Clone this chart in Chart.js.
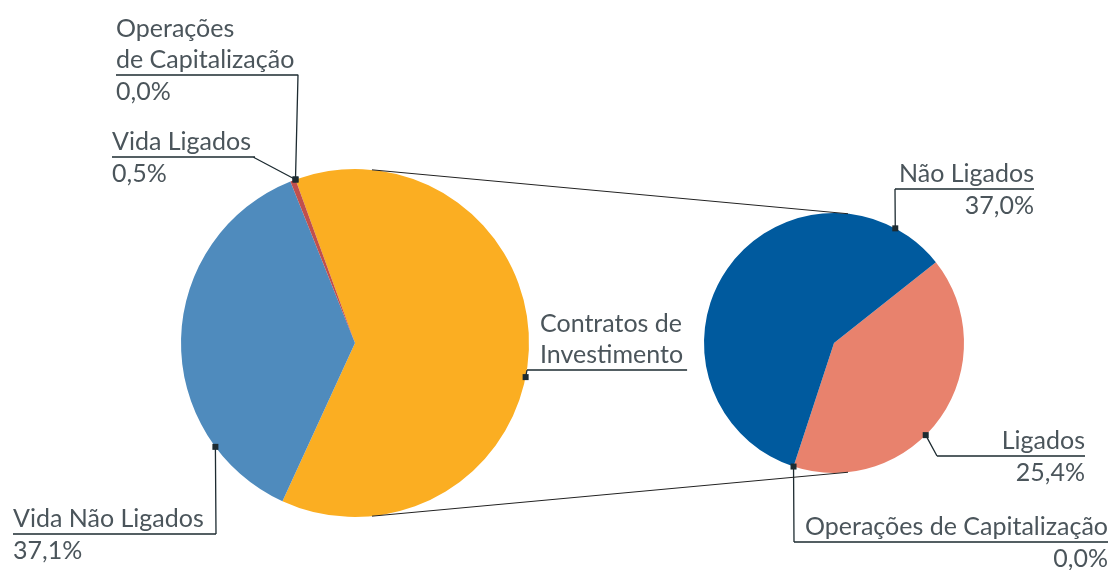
<!DOCTYPE html>
<html>
<head>
<meta charset="utf-8">
<script src="https://cdn.jsdelivr.net/npm/chart.js@4.4.1/dist/chart.umd.min.js"></script>
<style>
  html, body { margin: 0; padding: 0; background: #fff; }
  #wrap { position: relative; width: 1113px; height: 570px; }
  canvas { position: absolute; left: 0; top: 0; }
</style>
</head>
<body>
<div id="wrap">
  <canvas id="grafico1" width="1113" height="570"></canvas>
  <canvas id="grafico2" width="1113" height="570"></canvas>
</div>
<script>
// dados
const categoriasEsq = ['Contratos de Investimento', 'Vida Não Ligados', 'Vida Ligados', 'Operações de Capitalização'];
const valoresEsq = [62.4, 37.1, 0.5, 0.0];
const categoriasDir = ['Ligados', 'Operações de Capitalização', 'Não Ligados'];
const valoresDir = [25.4, 0.0, 37.0];

const coresEsq = ['#fbae22', '#4f8bbd', '#c0504d', '#8c8c8c'];
const coresDir = ['#e8826d', '#8c8c8c', '#005a9e'];

const FONTE = '25px Lato';
const COR_TEXTO = '#4b555b';
const COR_LINHA = '#1d2b31';

// rotulos: posicao do texto e ponto no arco (t = fracao ao longo do arco)
const rotulosEsq = [
  { linhas: ['Contratos de', 'Investimento'], x: 540, alinha: 'left', sub: 370, cotX: 527, t: 0.54, semValor: true },
  { linhas: ['Vida Não Ligados'], x: 13, alinha: 'left', sub: 534, cotX: 216, t: 0.215 },
  { linhas: ['Vida Ligados'], x: 112, alinha: 'left', sub: 157, cotX: 253, t: 1 },
  { linhas: ['Operações', 'de Capitalização'], x: 116, alinha: 'left', sub: 75, cotX: 298, t: 0.5 }
];
const rotulosDir = [
  { linhas: ['Ligados'], x: 1085, alinha: 'right', sub: 456, cotX: 937, t: 0.57 },
  { linhas: ['Operações de Capitalização'], x: 1108, alinha: 'right', sub: 542, cotX: 794, t: 0.5 },
  { linhas: ['Não Ligados'], x: 1034, alinha: 'right', sub: 189, cotX: 895, t: 0.89 }
];

function formatar(v) {
  return v.toFixed(1).replace('.', ',') + '%';
}

function pontoNoArco(arc, t) {
  const a = arc.startAngle + (arc.endAngle - arc.startAngle) * t;
  return { x: arc.x + arc.outerRadius * Math.cos(a), y: arc.y + arc.outerRadius * Math.sin(a) };
}

const pluginRotulos = {
  id: 'rotulos',
  afterDraw(chart, args, opts) {
    const ctx = chart.ctx;
    const meta = chart.getDatasetMeta(0);
    const valores = chart.data.datasets[0].data;
    ctx.save();
    ctx.font = FONTE;
    opts.lista.forEach(function (r, i) {
      const arc = meta.data[i];
      const p = pontoNoArco(arc, r.t);
      // largura do texto
      let w = 0;
      r.linhas.forEach(function (l) { w = Math.max(w, ctx.measureText(l).width); });
      let x0, x1;
      if (r.alinha === 'left') {
        x0 = Math.min(r.x, r.cotX);
        x1 = Math.max(r.x + w + 4, r.cotX);
      } else {
        x0 = Math.min(r.x - w, r.cotX);
        x1 = r.x;
      }
      ctx.strokeStyle = COR_LINHA;
      ctx.lineWidth = 1.3;
      ctx.beginPath();
      ctx.moveTo(x0, r.sub);
      ctx.lineTo(x1, r.sub);
      ctx.moveTo(r.cotX, r.sub);
      ctx.lineTo(p.x, p.y);
      ctx.stroke();
      ctx.fillStyle = COR_LINHA;
      ctx.fillRect(p.x - 3, p.y - 3, 6, 6);

      ctx.fillStyle = COR_TEXTO;
      ctx.textAlign = r.alinha;
      ctx.textBaseline = 'alphabetic';
      const n = r.linhas.length;
      r.linhas.forEach(function (l, k) {
        ctx.fillText(l, r.x, r.sub - 7 - (n - 1 - k) * 31);
      });
      if (!r.semValor) {
        ctx.fillText(formatar(valores[i]), r.x, r.sub + 25);
      }
    });
    ctx.restore();
  }
};

function pontoRelogio(arc, graus) {
  const a = (graus - 90) * Math.PI / 180;
  return { x: arc.x + arc.outerRadius * Math.cos(a), y: arc.y + arc.outerRadius * Math.sin(a) };
}

let graficoEsq;

const pluginLigacao = {
  id: 'ligacao',
  afterDraw(chart) {
    const a1 = graficoEsq.getDatasetMeta(0).data[0];
    const a2 = chart.getDatasetMeta(0).data[0];
    const ctx = chart.ctx;
    ctx.save();
    ctx.strokeStyle = '#222';
    ctx.lineWidth = 1;
    const pares = [[5.6, 6.2], [174.4, 173.8]];
    pares.forEach(function (p) {
      const s = pontoRelogio(a1, p[0]);
      const e = pontoRelogio(a2, p[1]);
      ctx.beginPath();
      ctx.moveTo(s.x, s.y);
      ctx.lineTo(e.x, e.y);
      ctx.stroke();
    });
    ctx.restore();
  }
};

function opcoes(padding, rotacao, lista) {
  return {
    responsive: false,
    animation: false,
    rotation: rotacao,
    layout: { padding: padding },
    plugins: {
      legend: { display: false },
      tooltip: { enabled: false },
      rotulos: { lista: lista }
    }
  };
}

graficoEsq = new Chart(document.getElementById('grafico1'), {
  type: 'pie',
  data: {
    labels: categoriasEsq,
    datasets: [{ data: valoresEsq, backgroundColor: coresEsq, borderWidth: 0 }]
  },
  options: opcoes({ left: 181, right: 584, top: 169, bottom: 53 }, -20, rotulosEsq),
  plugins: [pluginRotulos]
});

new Chart(document.getElementById('grafico2'), {
  type: 'pie',
  data: {
    labels: categoriasDir,
    datasets: [{ data: valoresDir, backgroundColor: coresDir, borderWidth: 0 }]
  },
  options: opcoes({ left: 704, right: 149, top: 213, bottom: 97 }, 51.6, rotulosDir),
  plugins: [pluginRotulos, pluginLigacao]
});
</script>
</body>
</html>
